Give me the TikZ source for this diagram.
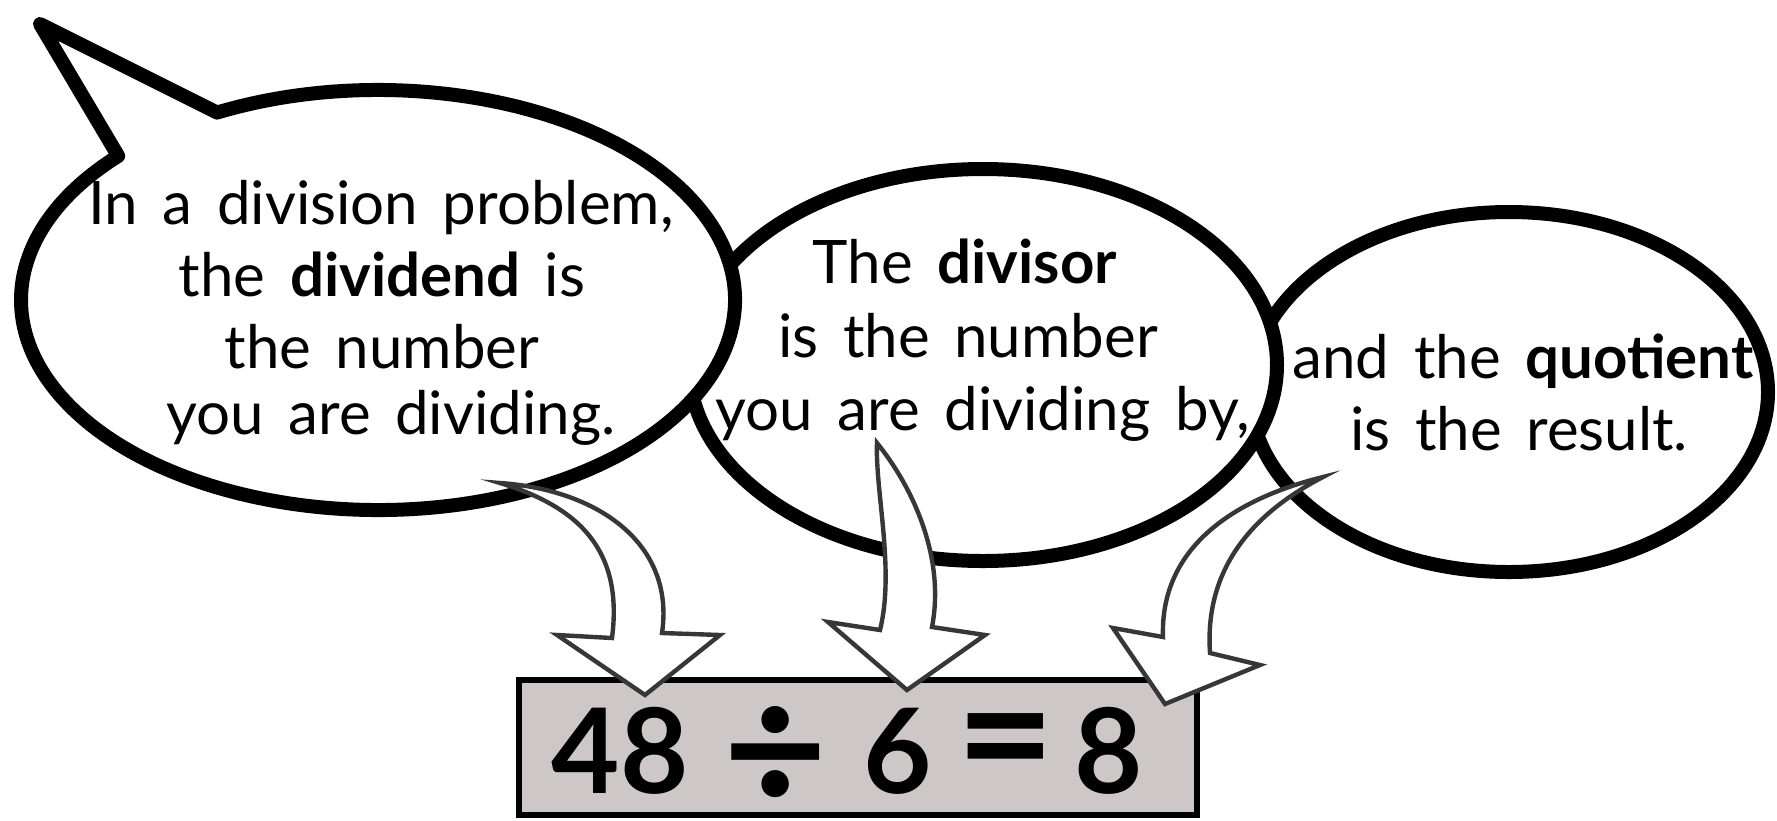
\documentclass[tikz,border=0pt]{standalone}
\usepackage{fontspec}
\setmainfont{Lato}[WordSpace=1.6]
\definecolor{boxfill}{RGB}{206,199,199}
\definecolor{arrowline}{RGB}{55,55,55}
\begin{document}
\begin{tikzpicture}[x=0.5pt,y=-0.5pt,
  bubble/.style={draw=black,fill=white,line width=7pt,line join=round},
  blockarrow/.style={draw=arrowline,fill=white,line width=2.2pt,line join=miter},
  eqbox/.style={draw=black,fill=boxfill,line width=3.3pt},
  txt/.style={anchor=base,inner sep=0pt,font=\fontsize{30}{34}\selectfont},
  eqtxt/.style={inner sep=0pt,font=\bfseries\fontsize{59}{60}\selectfont},
]
\useasboundingbox (0,0) rectangle (1777,820);

% right bubble
\draw[bubble] (1509,392) ellipse [x radius=259, y radius=180];

% middle bubble
\draw[bubble] (983,365) ellipse [x radius=294, y radius=196];

% left bubble with tail
\draw[bubble] (378,300) ++(243.2:357 and 210)
  arc[start angle=243.2, end angle=583.3, x radius=357, y radius=210]
  -- (40,24) -- cycle;

% equation box
\draw[eqbox] (519,680) rectangle (1197,815);

% bubble texts
\node[txt] (b1a) at (381,224) {In a division problem,};
\node[txt] (b1b) at (382,296) {the \textbf{dividend} is};
\node[txt] (b1c) at (382,368) {the number};
\node[txt] (b1d) at (391,434) {you are dividing.};

\node[txt] (b2a) at (965,283) {The \textbf{divisor}};
\node[txt] (b2b) at (968,357) {is the number};
\node[txt] (b2c) at (983,430) {you are dividing by,};

\node[txt] (b3a) at (1523,378) {and the \textbf{quotient}};
\node[txt] (b3b) at (1519,450) {is the result.};

% block arrows
\coordinate (t1) at (500,483);
\coordinate (t2) at (877,443);
\coordinate (t3) at (1323,477);
\draw[blockarrow] (t1) .. controls (600,490) and (675,545) .. (662,633)
  -- (720,635) -- (645,695) -- (557,635) -- (612,638)
  .. controls (622,560) and (590,510) .. (t1) -- cycle;
\draw[blockarrow] (t2) .. controls (915,490) and (945,560) .. (932,627)
  -- (985,635) -- (907,690) -- (828,622) -- (880,630)
  .. controls (895,570) and (875,490) .. (t2) -- cycle;
\draw[blockarrow] (t3) .. controls (1230,500) and (1160,550) .. (1163,637)
  -- (1113,628) -- (1165,704) -- (1260,665) -- (1210,653)
  .. controls (1205,580) and (1240,520) .. (t3) -- cycle;

% equation
\node[eqtxt,anchor=base] (n48) at (620,793) {48};
\node[eqtxt,anchor=center,font=\bfseries\fontsize{90}{90}\selectfont] (ndiv) at (776,759) {÷};
\node[eqtxt,anchor=base] (n6) at (898,793) {6};
\node[eqtxt,anchor=center,font=\bfseries\fontsize{85}{85}\selectfont] (neq) at (1006,754) {=};
\node[eqtxt,anchor=base] (n8) at (1109,793) {8};
\end{tikzpicture}
\end{document}
